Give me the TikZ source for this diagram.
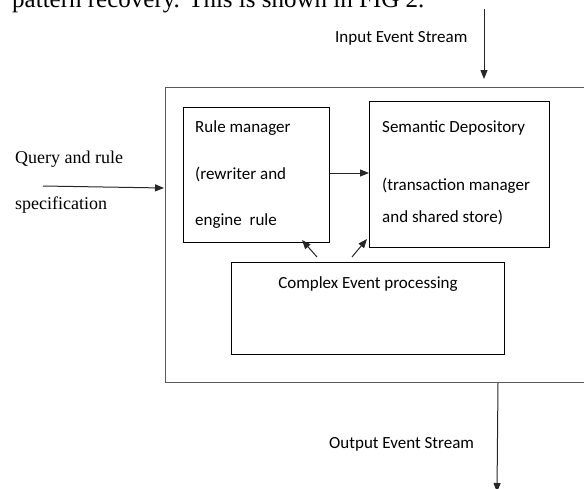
\documentclass[tikz,border=0pt]{standalone}
\usepackage{fontspec}
\setmainfont{Liberation Serif}
\newfontfamily\calib{Carlito}
\usetikzlibrary{arrows.meta}
\tikzset{
  box/.style={draw=black, line width=1pt, anchor=north west, inner sep=0pt},
  outerbox/.style={draw=black!65, line width=1.4pt, anchor=north west, inner sep=0pt},
  lbl/.style={font=\calib\fontsize{17}{20}\selectfont, inner sep=0pt, text=black},
  serif/.style={font=\fontsize{18}{21}\selectfont, inner sep=0pt, text=black},
  conn/.style={draw=black!85, line width=1pt, -{Triangle[length=9pt,width=7pt]}}
}
\begin{document}
\begin{tikzpicture}[x=1pt,y=-1pt]
\useasboundingbox (0,0) rectangle (584,488);
% cut-off running text at the top
\node[font=\fontsize{25}{28}\selectfont, inner sep=0pt, anchor=base west] (top) at (12,7) {pattern recovery. This is shown in FIG 2.};
% boxes
\node[outerbox, minimum width=440pt, minimum height=295pt] (outer) at (165,87) {};
\node[box, minimum width=146pt, minimum height=135pt] (rm) at (183,107) {};
\node[box, minimum width=180pt, minimum height=146pt] (sd) at (369,101) {};
\node[box, minimum width=273pt, minimum height=92pt] (cep) at (231,262) {};
% labels
\node[lbl, anchor=base west] (rm1) at (195,132) {Rule manager};
\node[lbl, anchor=base west] (rm2) at (195,179) {(rewriter and};
\node[lbl, anchor=base west] (rm3) at (195,225) {engine\ \ rule};
\node[lbl, anchor=base west] (sd1) at (382,132) {Semantic Depository};
\node[lbl, anchor=base west] (sd2) at (382,190) {(transaction manager};
\node[lbl, anchor=base west] (sd3) at (382,222) {and shared store)};
\node[lbl, anchor=base] (cept) at (368,288) {Complex Event processing};
\node[lbl, anchor=base west] (inl) at (335,42) {Input Event Stream};
\node[lbl, anchor=base west] (outl) at (329,448) {Output Event Stream};
\node[serif, anchor=base west] (q1) at (15,163) {Query and rule};
\node[serif, anchor=base west] (q2) at (15,209) {specification};
% connector ends
\coordinate (inS) at (484,9);
\coordinate (inE) at (484,79);
\coordinate (qS) at (43,186);
\coordinate (qE) at (164,188);
\coordinate (c1S) at (317,257);
\coordinate (c1E) at (302,240);
\coordinate (c2S) at (352,257);
\coordinate (c2E) at (367,239);
\coordinate (oS) at (498,383);
\coordinate (oE) at (497,492);
% connectors
\draw[conn] (inS) -- (inE);
\draw[conn] (qS) -- (qE);
\draw[conn] ([yshift=2pt]rm.east) -- ([yshift=2pt]rm.east -| sd.west);
\draw[conn] (c1S) -- (c1E);
\draw[conn] (c2S) -- (c2E);
\draw[conn] (oS) -- (oE);
\end{tikzpicture}
\end{document}
